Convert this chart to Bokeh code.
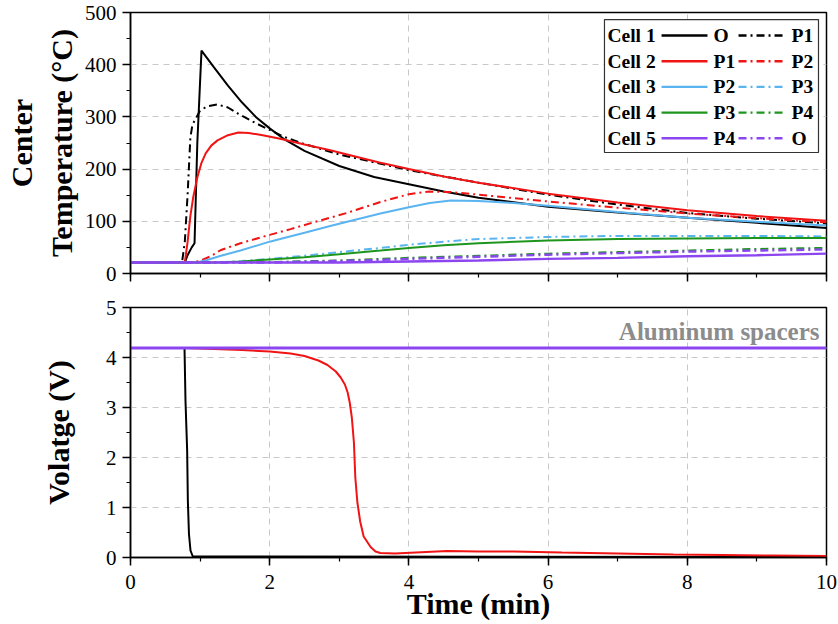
from bokeh.plotting import figure
from bokeh.models import Range1d, SingleIntervalTicker, Label
from bokeh.layouts import column
from bokeh.core.properties import value
from bokeh.embed import file_html
from bokeh.resources import INLINE

# ---------------- temperature data (min, degC) ----------------
t_c1_o = [0, 0.78, 0.82, 0.88, 0.92, 0.96, 1.02, 1.2, 1.4, 1.6, 1.8, 2.0, 2.2, 2.5, 3.0, 3.5, 4.0, 4.5, 5.0, 6.0, 7.0, 8.0, 9.0, 10.0]
T_c1_o = [21, 21, 35, 50, 58, 250, 427, 395, 360, 328, 300, 278, 258, 235, 206, 185, 171, 157, 145, 128, 117, 107, 97, 87]

t_c1_p1 = [0, 0.74, 0.78, 0.82, 0.86, 0.89, 0.95, 1.0, 1.1, 1.25, 1.4, 1.55, 1.8, 2.0, 2.2, 2.5, 3.0, 3.5, 4.0, 4.5, 5.0, 6.0, 7.0, 8.0, 9.0, 10.0]
T_c1_p1 = [21, 21, 60, 150, 260, 285, 300, 312, 320, 324, 318, 306, 288, 275, 262, 248, 228, 213, 198, 186, 174, 151, 132, 116, 105, 96]

t_c2_p1 = [0, 0.78, 0.82, 0.86, 0.9, 0.96, 1.02, 1.08, 1.16, 1.25, 1.4, 1.55, 1.7, 1.9, 2.15, 2.5, 2.87, 3.2, 3.59, 4.0, 4.5, 5.0, 6.0, 7.0, 8.0, 9.0, 10.0]
T_c2_p1 = [21, 21, 60, 110, 145, 184, 212, 230, 245, 255, 265, 270, 269, 265, 258, 247, 236, 225, 212, 200, 186, 174, 153, 136, 121, 110, 101]

t_c2_p2 = [0, 0.85, 1.0, 1.15, 1.3, 1.58, 2.0, 2.3, 2.63, 3.11, 3.59, 4.0, 4.3, 4.6, 5.0, 6.0, 7.0, 8.0, 9.0, 10.0]
T_c2_p2 = [21, 21, 24, 33, 45, 58, 74, 85, 98, 116, 137, 152, 157, 156, 151, 138, 126, 115, 106, 98]

t_c3_p2 = [0, 0.95, 1.1, 1.3, 1.58, 2.0, 2.15, 2.5, 2.87, 3.2, 3.59, 4.0, 4.3, 4.6, 5.0, 5.5, 6.0, 7.0, 8.0, 9.0, 10.0]
T_c3_p2 = [21, 21, 26, 34, 44, 61, 66, 78, 91, 102, 115, 127, 135, 140, 139, 135, 130, 118, 107, 99, 92]

t_c3_p3 = [0, 1.2, 1.6, 2.0, 2.5, 3.0, 3.59, 4.0, 4.5, 5.0, 6.0, 7.0, 8.0, 9.0, 10.0]
T_c3_p3 = [21, 21, 24, 28, 34, 41, 49, 55, 61, 66, 70, 72, 72, 72, 71]

t_c4_p3 = [0, 1.2, 1.6, 2.0, 2.5, 3.0, 3.59, 4.0, 4.5, 5.0, 6.0, 7.0, 8.0, 9.0, 10.0]
T_c4_p3 = [21, 21, 23, 27, 31, 37, 44, 49, 54, 58, 63, 66, 67, 68, 68]

t_c4_p4 = [0, 2.0, 3.0, 3.59, 4.0, 5.0, 6.0, 7.0, 8.0, 9.0, 10.0]
T_c4_p4 = [21, 22, 25, 28, 30, 34, 38, 41, 44, 47, 49]

t_c5_o = [0, 2.0, 3.0, 3.59, 4.0, 5.0, 6.0, 7.0, 8.0, 9.0, 10.0]
T_c5_o = [21, 21, 24, 26, 28, 32, 36, 39, 42, 44, 46]

t_c5_p4 = [0, 3.0, 4.0, 5.0, 6.0, 7.0, 8.0, 9.0, 10.0]
T_c5_p4 = [21, 21, 23, 25, 28, 30, 33, 35, 38]

# ---------------- voltage data (min, V) ----------------
t_v1 = [0, 0.776, 0.79, 0.814, 0.824, 0.84, 0.862, 0.895, 10.0]
V_v1 = [4.19, 4.19, 3.14, 2.14, 1.14, 0.47, 0.14, 0.02, 0.01]

t_v2 = [0, 0.8, 1.2, 1.6, 2.0, 2.3, 2.5, 2.7, 2.83, 2.95, 3.02, 3.08, 3.12, 3.15, 3.18, 3.21, 3.23, 3.26, 3.3, 3.35, 3.45, 3.52, 3.59, 3.8, 4.1, 4.55, 5.0, 5.5, 6.2, 7.0, 7.8, 8.5, 9.2, 10.0]
V_v2 = [4.19, 4.19, 4.17, 4.15, 4.12, 4.08, 4.03, 3.94, 3.85, 3.72, 3.6, 3.46, 3.3, 3.1, 2.8, 2.3, 1.6, 1.1, 0.72, 0.42, 0.21, 0.12, 0.09, 0.08, 0.1, 0.13, 0.12, 0.12, 0.1, 0.08, 0.06, 0.05, 0.04, 0.03]

t_v3 = [0, 10.0]
V_v3 = [4.19, 4.19]
t_v4 = [0, 10.0]
V_v4 = [4.19, 4.19]
t_v5 = [0, 10.0]
V_v5 = [4.19, 4.19]

# ---------------- legend labels ----------------
cell_names = ["Cell 1", "Cell 2", "Cell 3", "Cell 4", "Cell 5"]
solid_probes = ["O", "P1", "P2", "P3", "P4"]
dash_probes = ["P1", "P2", "P3", "P4", "O"]

cell_colors = ["#000000", "#f01414", "#5ab4f0", "#1e961e", "#8c46f0"]
DASHDOT = "8 4 2 4"
SERIF = "Liberation Serif"

temp_series = [
    (t_c1_o, T_c1_o, 0, "solid"), (t_c1_p1, T_c1_p1, 0, DASHDOT),
    (t_c2_p1, T_c2_p1, 1, "solid"), (t_c2_p2, T_c2_p2, 1, DASHDOT),
    (t_c3_p2, T_c3_p2, 2, "solid"), (t_c3_p3, T_c3_p3, 2, DASHDOT),
    (t_c4_p3, T_c4_p3, 3, "solid"), (t_c4_p4, T_c4_p4, 3, DASHDOT),
    (t_c5_p4, T_c5_p4, 4, "solid"), (t_c5_o, T_c5_o, 4, DASHDOT),
]
volt_series = [(t_v1, V_v1, 0), (t_v2, V_v2, 1), (t_v3, V_v3, 2), (t_v4, V_v4, 3), (t_v5, V_v5, 4)]


def style(p, y_interval):
    p.outline_line_color = "black"
    p.outline_line_width = 1.5
    p.outline_line_alpha = 1.0
    p.background_fill_color = "white"
    p.border_fill_color = "white"
    p.xaxis.ticker = SingleIntervalTicker(interval=2, num_minor_ticks=2)
    p.yaxis.ticker = SingleIntervalTicker(interval=y_interval, num_minor_ticks=2)
    for ax in (p.xaxis[0], p.yaxis[0]):
        ax.axis_line_color = "black"
        ax.axis_line_width = 1.5
        ax.major_tick_line_color = "black"
        ax.major_tick_line_width = 1.5
        ax.minor_tick_line_color = "black"
        ax.minor_tick_line_width = 1.2
        ax.major_tick_in = 0
        ax.major_tick_out = 8
        ax.minor_tick_in = 0
        ax.minor_tick_out = 4
        ax.major_label_text_font = SERIF
        ax.major_label_text_font_size = "21px"
        ax.major_label_text_color = "black"
        ax.major_label_standoff = 6
        ax.axis_label_text_font = SERIF
        ax.axis_label_text_font_style = "bold"
        ax.axis_label_text_font_size = "30px"
        ax.axis_label_text_color = "black"
        ax.axis_label_standoff = 4
    for g in (p.xgrid[0], p.ygrid[0]):
        g.grid_line_color = "#c8c8c8"
        g.grid_line_dash = "6 5"
        g.grid_line_width = 1


# ---------------- temperature panel ----------------
top = figure(width=838, height=290, x_range=Range1d(0, 10), y_range=Range1d(0, 500),
             output_backend="svg", toolbar_location=None,
             min_border_left=130, min_border_right=12, min_border_top=12, min_border_bottom=17)
style(top, 100)
# the shared time axis is labelled only on the lower panel
top.xaxis.major_label_overrides = {k: "" for k in range(0, 11, 2)}
top.yaxis.axis_label = "Center\nTemperature (\u00b0C)"

for xs, ys, ci, dash in temp_series:
    top.line(xs, ys, line_color=cell_colors[ci], line_width=2.4 if ci == 4 else 2, line_dash=dash)

# legend drawn in frame-fraction coordinates
top.extra_x_ranges = {"leg": Range1d(0, 1)}
top.extra_y_ranges = {"leg": Range1d(0, 1)}
top.quad(left=[0.681], right=[0.9885], bottom=[0.4636], top=[0.973],
         fill_color="white", line_color="#333333", line_width=1.2,
         x_range_name="leg", y_range_name="leg")
row_y = [0.912 - 0.0985 * i for i in range(len(cell_names))]
lbl_kw = dict(text_font=value(SERIF), text_font_style="bold", text_font_size="19.5px",
              text_baseline="middle", text_color="black", x_range_name="leg", y_range_name="leg")
top.text(x=[0.6853] * 5, y=row_y, text=cell_names, **lbl_kw)
top.text(x=[0.8376] * 5, y=row_y, text=solid_probes, **lbl_kw)
top.text(x=[0.9497] * 5, y=row_y, text=dash_probes, **lbl_kw)
for i, yy in enumerate(row_y):
    top.line([0.763, 0.829], [yy, yy], line_color=cell_colors[i], line_width=2.4,
             x_range_name="leg", y_range_name="leg")
    top.line([0.8736, 0.938], [yy, yy], line_color=cell_colors[i], line_width=2.4, line_dash=DASHDOT,
             x_range_name="leg", y_range_name="leg")

# ---------------- voltage panel ----------------
bot = figure(width=838, height=334, x_range=Range1d(0, 10), y_range=Range1d(0, 5),
             output_backend="svg", toolbar_location=None,
             min_border_left=130, min_border_right=12, min_border_top=17, min_border_bottom=67)
style(bot, 1)
bot.yaxis.axis_label = "Volatge (V)"
bot.yaxis.axis_label_standoff = 28
bot.xaxis.axis_label = "Time (min)"
bot.xaxis.major_label_standoff = 9
bot.xaxis.axis_label_standoff = -5

for xs, ys, ci in volt_series:
    bot.line(xs, ys, line_color=cell_colors[ci], line_width=3 if ci == 4 else 2)

bot.add_layout(Label(x=9.9, y=4.53, text="Aluminum spacers", text_align="right", text_baseline="middle",
                     text_font=SERIF, text_font_style="bold", text_font_size="25px", text_color="#8c8c8c"))

layout = column(top, bot)
open("out.html", "w").write(file_html(layout, INLINE))
